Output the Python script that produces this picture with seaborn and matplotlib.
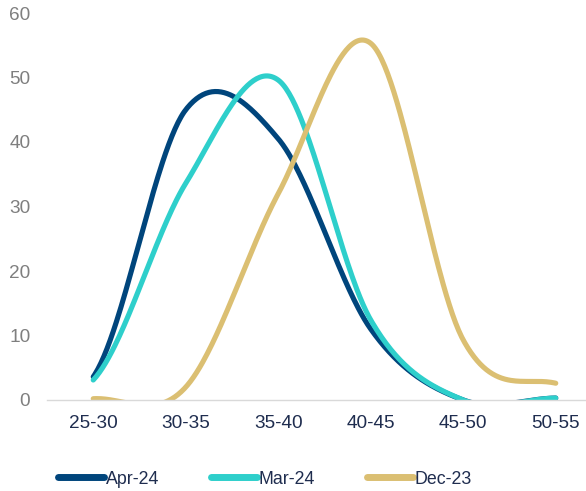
import numpy as np
import pandas as pd
import matplotlib
matplotlib.use("Agg")
import matplotlib.pyplot as plt
import seaborn as sns

# === Data ===
categories = ["25-30", "30-35", "35-40", "40-45", "45-50", "50-55"]
series_names = ["Apr-24", "Mar-24", "Dec-23"]
apr_24 = [3.6, 45.0, 40.5, 11.0, 0.0, 0.3]
mar_24 = [3.1, 33.6, 49.6, 12.4, 0.0, 0.3]
dec_23 = [0.2, 2.0, 32.0, 55.3, 9.3, 2.6]
y_ticks = [0, 10, 20, 30, 40, 50, 60]

colors = {"Apr-24": "#00457c", "Mar-24": "#2ecfcb", "Dec-23": "#dbbf72"}
label_navy = "#1f2d4f"
tick_gray = "#7f7f7f"


# Excel-style smoothed line (Catmull-Rom through the data points)
def smooth(values, n=60):
    p = np.concatenate([[values[0]], values, [values[-1]]])
    xs, ys = [], []
    for i in range(len(values) - 1):
        p0, p1, p2, p3 = p[i], p[i + 1], p[i + 2], p[i + 3]
        t = np.linspace(0, 1, n, endpoint=False)
        c1 = p1 + (p2 - p0) / 6
        c2 = p2 - (p3 - p1) / 6
        seg = (1 - t) ** 3 * p1 + 3 * (1 - t) ** 2 * t * c1 + 3 * (1 - t) * t ** 2 * c2 + t ** 3 * p2
        xs.append(i + t)
        ys.append(seg)
    xs.append([len(values) - 1])
    ys.append([values[-1]])
    return np.concatenate(xs), np.concatenate(ys)


frames = []
for name, vals in zip(series_names, [apr_24, mar_24, dec_23]):
    x, y = smooth(np.array(vals, dtype=float))
    frames.append(pd.DataFrame({"x": x, "value": y, "series": name}))
df = pd.concat(frames, ignore_index=True)

# === Plot ===
sns.set_style("white")
plt.rcParams["font.family"] = ["Liberation Sans", "DejaVu Sans"]

fig = plt.figure(figsize=(5.86, 4.91), dpi=100)
ax = fig.add_axes([47 / 586, 91 / 491, 555 / 586, 387 / 491])

sns.lineplot(data=df, x="x", y="value", hue="series", hue_order=series_names,
             palette=colors, linewidth=3.7, ax=ax, legend=False,
             solid_capstyle="round", sort=False)

ax.set_xlim(-0.5, len(categories) - 0.5)
ax.set_ylim(0, 60)
ax.set_xlabel("")
ax.set_ylabel("")

ax.set_xticks(range(len(categories)))
ax.set_xticklabels(categories)
ax.set_xticks(np.arange(-0.5, len(categories), 1), minor=True)
ax.tick_params(axis="x", which="major", length=0, pad=11, labelsize=13.7, labelcolor=label_navy)
ax.tick_params(axis="x", which="minor", length=5, width=1, color="#d9d9d9", direction="out")
ax.set_yticks(y_ticks)
ax.tick_params(axis="y", length=0, pad=12, labelsize=13.7, labelcolor=tick_gray)

for side in ["top", "right", "left"]:
    ax.spines[side].set_visible(False)
ax.spines["bottom"].set_color("#d9d9d9")
ax.spines["bottom"].set_linewidth(1)
ax.grid(False)

# legend at the bottom
handles = [plt.Line2D([0], [0], color=colors[s], linewidth=5, solid_capstyle="round") for s in series_names]
leg = fig.legend(handles, series_names, loc="center", bbox_to_anchor=(265 / 586, 12 / 491),
                 ncol=3, frameon=False, fontsize=12.8, handlelength=2.6, handletextpad=0.1,
                 columnspacing=2.9, borderpad=0)
for txt in leg.get_texts():
    txt.set_color(label_navy)

fig.savefig("out.png", dpi=100)
